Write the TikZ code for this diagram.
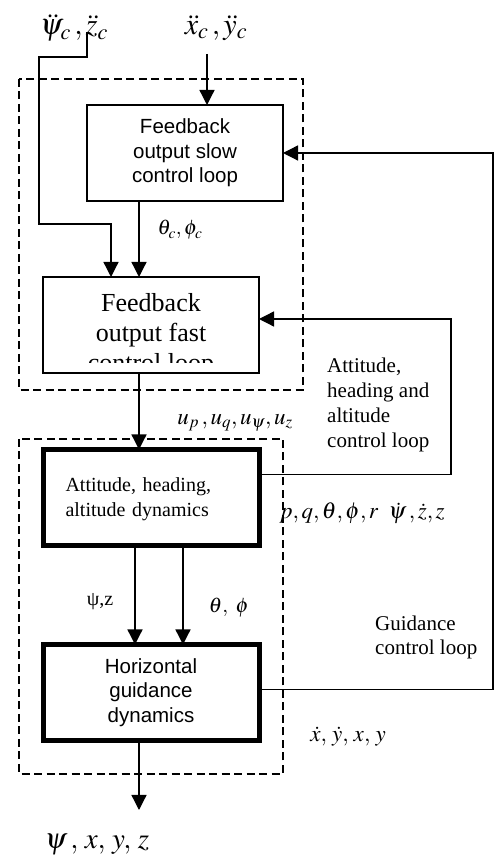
\documentclass[tikz,border=0pt]{standalone}
\usepackage{mathptmx}
\usepackage{fontspec}
\setmainfont{Liberation Serif}
\setsansfont{Liberation Sans}
\usetikzlibrary{arrows.meta,positioning}
\tikzstyle{slowbox} = [rectangle, draw, line width=1.3pt, outer sep=0pt, minimum width=196pt, minimum height=96pt, align=center, font=\sffamily\fontsize{20.5}{24.5}\selectfont]
\tikzstyle{fastbox} = [rectangle, draw, line width=1.3pt, outer sep=0pt, minimum width=216pt, minimum height=96pt]
\tikzstyle{fasttext} = [align=center, inner sep=0pt, font=\fontsize{26}{30}\selectfont]
\tikzstyle{dynbox} = [rectangle, draw, line width=5pt, outer sep=0pt, minimum width=216pt, minimum height=96pt]
\tikzstyle{looptext} = [anchor=west, align=left, inner sep=0pt, font=\fontsize{21}{25}\selectfont]
\tikzstyle{sig} = [inner sep=0pt, font=\fontsize{21}{24}\selectfont]
\tikzstyle{tedge} = [draw, line width=1.3pt, -{Triangle[length=15pt, width=15pt]}]
\tikzstyle{dashframe} = [draw, line width=1.3pt, dash pattern=on 8pt off 4.5pt]

\begin{document}
\begin{tikzpicture}[x=1pt, y=1pt]
\useasboundingbox (0,0) rectangle (501,862);

% blocks =============================

% controllers
\node[slowbox] (slow) at (185,709) {Feedback\\output slow\\control loop};
\node[fastbox, below=76pt of slow, xshift=-34pt] (fast) {};
\begin{scope}
\clip ([yshift=10pt]fast.south west) rectangle (fast.north east);
\node[fasttext] (fastlbl) at ([yshift=-10pt]fast.center) {Feedback\\output fast\\control loop};
\end{scope}

% dynamics
\node[dynbox, below=76.5pt of fast, align=left, text width=171pt, text depth=25pt, font=\fontsize{20}{25}\selectfont] (att) {Attitude, heading,\\altitude dynamics};
\node[dynbox, below=99pt of att, align=center, font=\sffamily\fontsize{20.5}{24.5}\selectfont] (hor) {Horizontal\\guidance\\dynamics};

% frames
\draw[dashframe] (19,783) rectangle (303,472);
\draw[dashframe] (19,423) rectangle (283,88);

% signals
\node[sig, font=\fontsize{30}{32}\selectfont] (psizc) at (74,834) {$\ddot{\psi}_c\,,\ddot{z}_c$};
\node[sig, font=\fontsize{30}{32}\selectfont] (xyc) at (216,834) {$\ddot{x}_c\,,\ddot{y}_c$};
\node[sig] (thc) at (180,632) {$\theta_c,\phi_c$};
\node[sig, font=\fontsize{23}{26}\selectfont] (uin) at (235,439) {$u_p\,,u_q,u_\psi,u_z$};
\node[sig, font=\fontsize{23}{26}\selectfont] (pqr) at (362,349) {$p,q,\theta,\phi,r\;\;\dot{\psi}\,,\dot{z},z$};
\node[sig, font=\fontsize{20}{24}\selectfont] (psz) at (100,260) {ψ,z};
\node[sig] (thph) at (229,254) {$\theta,\ \phi$};
\node[sig, font=\fontsize{23}{26}\selectfont] (xyd) at (348,125) {$\dot{x},\,\dot{y},\,x,\,y$};
\node[sig, font=\fontsize{29}{32}\selectfont] (outl) at (97,17) {$\psi\,,\,x,\,y,\,z$};

% loops
\node[looptext] (attl) at (327,457.5) {Attitude,\\heading and\\altitude\\control loop};
\node[looptext, font=\fontsize{21}{24}\selectfont] (guidl) at (375,225) {Guidance\\control loop};

\coordinate (zin) at (87,830);
\coordinate (zdrop) at (111,638);
\coordinate (xin) at (207,808);
\coordinate (aloop) at (451,543);
\coordinate (gloop) at (493,709);
\coordinate (yout) at (139,52);

%edges
\path[tedge] (zin) |- (39,805) |- (zdrop) -- ([xshift=-40pt]fast.north);
\path[tedge] (xin) -- ([xshift=22pt]slow.north);
\path[tedge] ([xshift=-46pt]slow.south) -- ([xshift=-12pt]fast.north);
\path[tedge] ([xshift=-12pt]fast.south) -- ([xshift=-12pt]att.north);
\path[tedge] ([xshift=-16pt]att.south) -- ([xshift=-16pt]hor.north);
\path[tedge] ([xshift=32pt]att.south) -- ([xshift=32pt]hor.north);
\path[tedge] ([xshift=-12pt]hor.south) -- (yout);

\path[tedge] ([yshift=23pt]att.east) -| (aloop) -- ([yshift=6pt]fast.east);
\path[tedge] ([yshift=3pt]hor.east) -| (gloop) -- (slow.east);

\end{tikzpicture}
\end{document}
